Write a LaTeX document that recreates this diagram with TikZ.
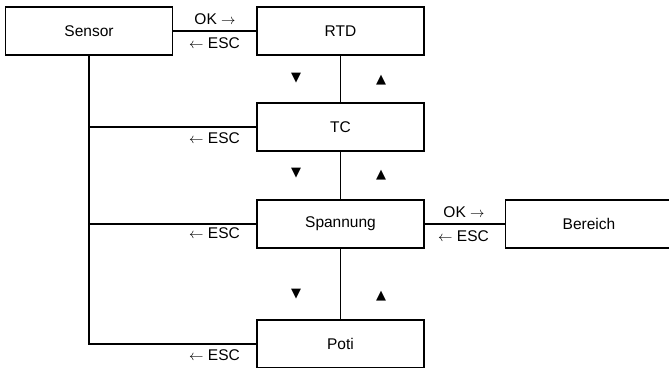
\documentclass[tikz,border=0pt]{standalone}
\usepackage{fontspec}
\setmainfont{Liberation Sans}
\newfontfamily\symfont{DejaVu Sans}
\newcommand{\rarr}{$\mathord{\rightarrow}$}
\newcommand{\larr}{$\mathord{\leftarrow}$}
\begin{document}
\begin{tikzpicture}[x=1pt,y=-1pt,line width=1.9pt,
  menubox/.style={draw,minimum width=167pt,minimum height=48pt,inner sep=0pt,
    font=\fontsize{15.5}{18}\selectfont},
  keylabel/.style={inner sep=0pt,font=\fontsize{15.5}{18}\selectfont},
  navmark/.style={inner sep=0pt,font=\symfont\fontsize{13}{15}\selectfont}]
\useasboundingbox (0,0) rectangle (669,367);
\clip (0,0) rectangle (669,367);

% menu entries
\node[menubox] (sensor) at (89,31)    {Sensor};
\node[menubox] (rtd)    at (340.5,31) {RTD};
\node[menubox] (tc)     at (340.5,127) {TC};
\node[menubox] (span)   at (340.5,224) {Spannung};
\node[menubox] (poti)   at (340.5,344) {Poti};
\node[menubox] (ber)    at (589,224)  {Bereich};

% connectors
\draw (sensor) -- (rtd);
\draw (rtd) -- (tc);
\draw (tc) -- (span);
\draw (span) -- (poti);
\draw (span) -- (ber);
\draw (sensor.south) |- (tc.west);
\draw (sensor.south) |- (span.west);
\draw (sensor.south) |- (poti.west);

% key labels
\node[keylabel] (ok1)  at (215,19)    {OK \rarr};
\node[keylabel] (esc1) at (214.5,43)  {\larr{} ESC};
\node[keylabel] (esc2) at (214.5,138) {\larr{} ESC};
\node[keylabel] (esc3) at (214.5,233) {\larr{} ESC};
\node[keylabel] (esc4) at (214.5,355) {\larr{} ESC};
\node[keylabel] (ok2)  at (464,212)   {OK \rarr};
\node[keylabel] (esc5) at (463.5,236) {\larr{} ESC};

% up/down keys
\node[navmark] (dn1) at (296,78)  {▼};
\node[navmark] (up1) at (381,80)  {▲};
\node[navmark] (dn2) at (296,173) {▼};
\node[navmark] (up2) at (381,175) {▲};
\node[navmark] (dn3) at (296,294) {▼};
\node[navmark] (up3) at (381,296) {▲};
\end{tikzpicture}
\end{document}
